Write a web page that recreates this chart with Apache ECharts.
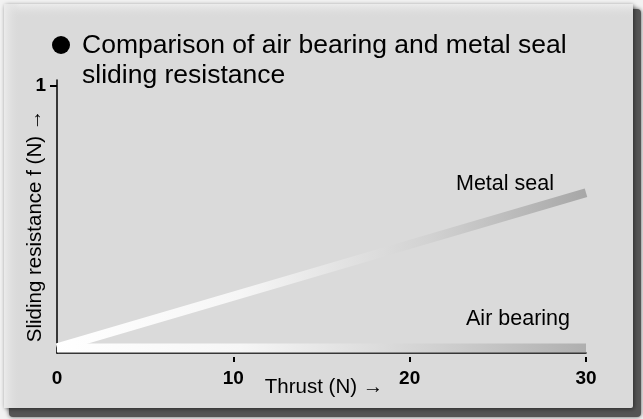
<!DOCTYPE html>
<html lang="en">
<head>
    <meta charset="UTF-8">
    <title>Air bearing vs metal seal</title>
    <script src="https://cdn.jsdelivr.net/npm/echarts@6/dist/echarts.min.js"></script>
    <style>
        html, body { margin: 0; padding: 0; background: #f2f2f2; }
        #chart { width: 643px; height: 419px; }
    </style>
</head>
<body>
    <div id="chart"></div>
    <script>
    // data
    var thrust = [0, 30];
    var metalSeal = [0.019, 0.6];
    var airBearing = [0.019, 0.019];
    var xTicks = [10, 20, 30];
    var xLabels = [0, 10, 20, 30];
    var yTicks = [1];

    var font = '"Liberation Sans", Arial, Helvetica, sans-serif';

    function pairs(xs, ys) {
        return xs.map(function (x, i) { return [x, ys[i]]; });
    }
    function fade(end) {
        return new echarts.graphic.LinearGradient(0, 0, 1, 0, [
            { offset: 0, color: '#ffffff' },
            { offset: 0.35, color: '#f6f6f6' },
            { offset: 0.7, color: '#d2d2d2' },
            { offset: 1, color: end }
        ]);
    }

    var myChart = echarts.init(document.getElementById('chart'));
    var option = {
        animation: false,
        backgroundColor: '#f2f2f2',
        grid: { left: 57, right: 57, top: 80, bottom: 66 },
        graphic: [
            // dark shadow behind the panel
            {
                type: 'rect', z: -11,
                shape: { x: 9, y: 9, width: 632, height: 408, r: 4 },
                style: { fill: '#555', shadowColor: 'rgba(0,0,0,0.6)', shadowBlur: 4 }
            },
            // panel
            {
                type: 'rect', z: -10,
                shape: { x: 4, y: 4, width: 629, height: 404, r: 2 },
                style: { fill: '#dadada', shadowColor: 'rgba(0,0,0,0.5)', shadowBlur: 4, shadowOffsetX: 1, shadowOffsetY: 1 }
            },
            // light bevel top / left
            {
                type: 'rect', z: -9,
                shape: { x: 4, y: 4, width: 629, height: 14 },
                style: { fill: new echarts.graphic.LinearGradient(0, 0, 0, 1, [
                    { offset: 0, color: '#ececec' }, { offset: 1, color: 'rgba(218,218,218,0)' }]) }
            },
            {
                type: 'rect', z: -9,
                shape: { x: 4, y: 4, width: 16, height: 404 },
                style: { fill: new echarts.graphic.LinearGradient(0, 0, 1, 0, [
                    { offset: 0, color: '#ebebeb' }, { offset: 1, color: 'rgba(218,218,218,0)' }]) }
            },
            // title
            {
                type: 'circle', shape: { cx: 61, cy: 45, r: 9 }, style: { fill: '#000' }
            },
            {
                type: 'text', left: 82, top: 31,
                style: {
                    text: 'Comparison of air bearing and metal seal\nsliding resistance',
                    font: '26.5px ' + font, fill: '#000', lineHeight: 29.5
                }
            },
            // axis names
            {
                type: 'text', x: 35, y: 226, rotation: Math.PI / 2,
                style: {
                    text: 'Sliding resistance f (N) →', font: '20.5px ' + font, fill: '#000',
                    align: 'center', verticalAlign: 'middle'
                }
            },
            {
                type: 'text', x: 324, y: 387,
                style: {
                    text: 'Thrust (N) →', font: '20.5px ' + font, fill: '#000',
                    align: 'center', verticalAlign: 'middle'
                }
            },
            // series labels
            {
                type: 'text', x: 505, y: 184,
                style: {
                    text: 'Metal seal', font: '21.5px ' + font, fill: '#000',
                    align: 'center', verticalAlign: 'middle'
                }
            },
            {
                type: 'text', x: 518, y: 319,
                style: {
                    text: 'Air bearing', font: '21.5px ' + font, fill: '#000',
                    align: 'center', verticalAlign: 'middle'
                }
            }
        ],
        xAxis: [{
            type: 'value', min: 0, max: 30,
            axisLine: { lineStyle: { color: '#000', width: 1.5 } },
            axisTick: { show: false },
            axisLabel: { show: false },
            splitLine: { show: false }
        }, {
            type: 'value', min: 0, max: 30, position: 'bottom', offset: 4,
            axisLine: { show: false },
            axisTick: { customValues: xTicks, length: 5, lineStyle: { color: '#000', width: 2 } },
            axisLabel: {
                customValues: xLabels, margin: 12,
                fontFamily: font, fontSize: 19, fontWeight: 'bold', color: '#000'
            },
            splitLine: { show: false }
        }],
        yAxis: {
            type: 'value', min: 0, max: 1.0225,
            axisLine: { show: true, lineStyle: { color: '#000', width: 1.5 } },
            axisTick: { show: true, customValues: yTicks, length: 7, lineStyle: { color: '#000', width: 2 } },
            axisLabel: {
                customValues: yTicks, margin: 11,
                fontFamily: font, fontSize: 19, fontWeight: 'bold', color: '#000'
            },
            splitLine: { show: false }
        },
        series: [{
            name: 'Air bearing', type: 'line', xAxisIndex: 0,
            data: pairs(thrust, airBearing),
            symbol: 'none', z: 2,
            lineStyle: { width: 9, cap: 'butt', color: fade('#aeaeae') }
        }, {
            name: 'Metal seal', type: 'line', xAxisIndex: 0,
            data: pairs(thrust, metalSeal),
            symbol: 'none', z: 3,
            lineStyle: { width: 9, cap: 'butt', color: fade('#a6a6a6') }
        }]
    };
    myChart.setOption(option);
    </script>
</body>
</html>
